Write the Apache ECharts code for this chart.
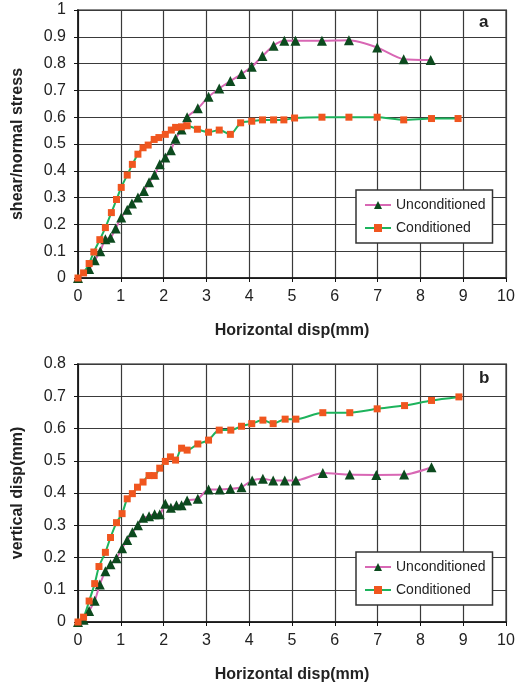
<!DOCTYPE html>
<html>
<head>
<meta charset="utf-8">
<script src="https://cdn.jsdelivr.net/npm/echarts@6/dist/echarts.min.js"></script>
<style>
  html, body { margin: 0; padding: 0; background: #fff; }
  #chart { width: 523px; height: 684px; }
</style>
</head>
<body>
<div id="chart"></div>
<script>
// (a) shear/normal stress vs horizontal disp
var stressUncond = [
    [0, 0], [0.26, 0.034], [0.39, 0.066], [0.52, 0.10], [0.64, 0.145], [0.76, 0.15],
    [0.88, 0.185], [1.01, 0.226], [1.15, 0.255], [1.26, 0.278], [1.40, 0.30], [1.54, 0.325],
    [1.66, 0.357], [1.79, 0.385], [1.91, 0.424], [2.04, 0.45], [2.17, 0.477], [2.28, 0.52],
    [2.42, 0.554], [2.55, 0.60], [2.80, 0.633], [3.05, 0.676], [3.30, 0.707], [3.56, 0.735],
    [3.82, 0.761], [4.06, 0.788], [4.31, 0.828], [4.57, 0.867], [4.82, 0.885], [5.08, 0.885],
    [5.70, 0.885], [6.33, 0.887], [6.99, 0.86], [7.61, 0.816], [8.24, 0.813]
];
var stressCond = [
    [0, 0], [0.13, 0.019], [0.26, 0.054], [0.37, 0.097], [0.51, 0.143], [0.64, 0.188],
    [0.78, 0.244], [0.90, 0.293], [1.01, 0.338], [1.15, 0.384], [1.27, 0.424], [1.40, 0.462],
    [1.52, 0.486], [1.64, 0.496], [1.78, 0.517], [1.89, 0.524], [2.04, 0.536], [2.18, 0.552],
    [2.28, 0.562], [2.42, 0.564], [2.55, 0.568], [2.79, 0.555], [3.05, 0.544], [3.30, 0.552],
    [3.56, 0.536], [3.80, 0.579], [4.06, 0.585], [4.31, 0.59], [4.57, 0.59], [4.81, 0.59],
    [5.06, 0.597], [5.70, 0.60], [6.33, 0.60], [6.99, 0.60], [7.61, 0.59], [8.26, 0.595],
    [8.88, 0.595]
];
// (b) vertical disp vs horizontal disp
var vertUncond = [
    [0, 0], [0.13, 0.007], [0.26, 0.034], [0.39, 0.066], [0.51, 0.116], [0.64, 0.157],
    [0.76, 0.179], [0.90, 0.198], [1.03, 0.229], [1.15, 0.254], [1.27, 0.278], [1.40, 0.30],
    [1.52, 0.323], [1.66, 0.328], [1.79, 0.334], [1.91, 0.334], [2.04, 0.367], [2.17, 0.354],
    [2.30, 0.362], [2.42, 0.362], [2.55, 0.377], [2.80, 0.382], [3.05, 0.411], [3.31, 0.411],
    [3.56, 0.413], [3.82, 0.418], [4.07, 0.439], [4.32, 0.444], [4.56, 0.439], [4.83, 0.439],
    [5.09, 0.439], [5.72, 0.462], [6.35, 0.457], [6.97, 0.456], [7.62, 0.457], [8.26, 0.48]
];
var vertCond = [
    [0, 0], [0.13, 0.015], [0.26, 0.065], [0.39, 0.119], [0.49, 0.172], [0.64, 0.216],
    [0.76, 0.262], [0.90, 0.308], [1.03, 0.336], [1.15, 0.382], [1.27, 0.398], [1.39, 0.418],
    [1.52, 0.434], [1.66, 0.454], [1.78, 0.454], [1.91, 0.477], [2.04, 0.498], [2.16, 0.512],
    [2.28, 0.502], [2.42, 0.539], [2.55, 0.533], [2.80, 0.552], [3.05, 0.564], [3.30, 0.595],
    [3.57, 0.595], [3.82, 0.607], [4.06, 0.615], [4.32, 0.626], [4.56, 0.615], [4.84, 0.629],
    [5.09, 0.629], [5.72, 0.649], [6.35, 0.649], [6.99, 0.661], [7.63, 0.671], [8.26, 0.687],
    [8.90, 0.698]
];
var seriesNames = ['Unconditioned', 'Conditioned'];

var font = 'Liberation Sans, Arial, sans-serif';
var pink = '#d867b4', green = '#1db35c', dark = '#0c4a1e', orange = '#f0561f';

function xAx(idx) {
    return {
        gridIndex: idx, type: 'value', min: 0, max: 10, interval: 1,
        name: 'Horizontal disp(mm)', nameLocation: 'middle', nameGap: 45,
        nameTextStyle: { fontFamily: font, fontSize: 16, fontWeight: 'bold', color: '#222' },
        axisLine: { lineStyle: { color: '#111', width: 1.5 } },
        axisTick: { show: true, length: 4, lineStyle: { color: '#111' } },
        axisLabel: { fontFamily: font, fontSize: 16, color: '#222', margin: 11 },
        splitLine: { show: true, lineStyle: { color: '#3a3a3a', width: 1.2 } }
    };
}
function yAx(idx, max, title) {
    return {
        gridIndex: idx, type: 'value', min: 0, max: max, interval: 0.1,
        name: title, nameLocation: 'middle', nameGap: 52,
        nameTextStyle: { fontFamily: font, fontSize: 16, fontWeight: 'bold', color: '#222' },
        axisLine: { show: true, lineStyle: { color: '#111', width: 1.5 } },
        axisTick: { show: true, length: 4, lineStyle: { color: '#111' } },
        axisLabel: { fontFamily: font, fontSize: 16, color: '#222', margin: 12 },
        splitLine: { show: true, lineStyle: { color: '#3a3a3a', width: 1.2 } }
    };
}
function unc(idx, data) {
    return {
        name: seriesNames[0], type: 'line', xAxisIndex: idx, yAxisIndex: idx, data: data,
        smooth: 0.25, symbol: 'triangle', symbolSize: 10,
        lineStyle: { color: pink, width: 2 }, itemStyle: { color: dark }
    };
}
function cond(idx, data) {
    return {
        name: seriesNames[1], type: 'line', xAxisIndex: idx, yAxisIndex: idx, data: data,
        smooth: 0.25, symbol: 'rect', symbolSize: 7,
        lineStyle: { color: green, width: 2 }, itemStyle: { color: orange }
    };
}
function leg(top) {
    return {
        data: seriesNames, orient: 'vertical', left: 356, top: top,
        itemWidth: 26, itemHeight: 10, itemGap: 9,
        padding: [8, 7, 8, 8], backgroundColor: '#fff',
        borderColor: '#333', borderWidth: 1.5, borderRadius: 0,
        textStyle: { fontFamily: font, fontSize: 14, color: '#222' },
        selectedMode: false
    };
}

var myChart = echarts.init(document.getElementById('chart'));
var option = {
    animation: false,
    backgroundColor: '#fff',
    grid: [
        { left: 78, top: 10, width: 428, height: 268, show: true, borderColor: '#888', borderWidth: 2 },
        { left: 78, top: 364, width: 428, height: 260, show: true, borderColor: '#888', borderWidth: 2 }
    ],
    xAxis: [xAx(0), xAx(1)],
    yAxis: [yAx(0, 1, 'shear/normal stress'), yAx(1, 0.8, 'vertical disp(mm)')],
    legend: [leg(190), leg(552)],
    graphic: [
        { type: 'text', left: 479, top: 14, style: { text: 'a', font: 'bold 17px ' + font, fill: '#222' } },
        { type: 'text', left: 479, top: 370, style: { text: 'b', font: 'bold 17px ' + font, fill: '#222' } }
    ],
    series: [
        unc(0, stressUncond), cond(0, stressCond),
        unc(1, vertUncond), cond(1, vertCond)
    ]
};
myChart.setOption(option);
</script>
</body>
</html>
